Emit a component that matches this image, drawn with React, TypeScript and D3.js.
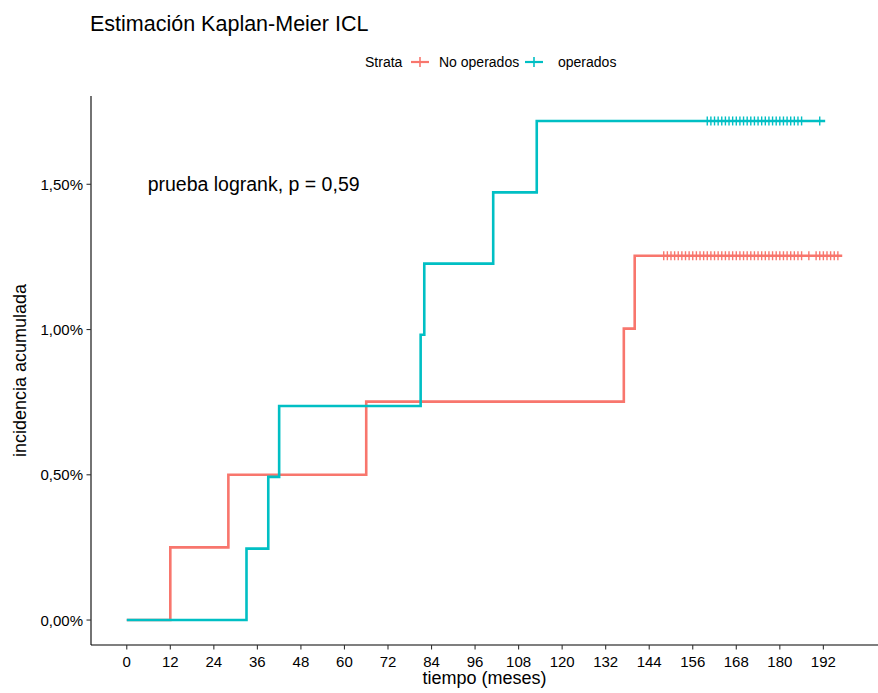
import React from 'react';
import * as d3 from 'd3';

// No operados
const noOperTime = [0, 12, 28, 66, 137, 140];
const noOperInc = [0, 0.25, 0.5, 0.752, 1.003, 1.254];
const noOperEnd = 197.2;
const noOperCensor = [
  148, 149, 150, 151, 152, 153, 154, 155, 156, 157, 158, 159, 160, 161, 162,
  163, 164, 165, 166, 167, 168, 169, 170, 171, 172, 173, 174, 175, 176, 177,
  178, 179, 180, 181, 182, 183, 184, 185, 186, 188, 190, 191, 192, 193, 194,
  195, 196,
];

// operados
const operTime = [0, 33, 39, 42, 81, 82, 101, 113];
const operInc = [0, 0.246, 0.493, 0.737, 0.982, 1.227, 1.472, 1.718];
const operEnd = 192.5;
const operCensor = [
  160, 161, 162, 163, 164, 165, 166, 167, 168, 169, 170, 171, 172, 173, 174,
  175, 176, 177, 178, 179, 180, 181, 182, 183, 184, 185, 186, 191,
];

const xTicks = [0, 12, 24, 36, 48, 60, 72, 84, 96, 108, 120, 132, 144, 156, 168, 180, 192];
const yTicks = [0, 0.5, 1.0, 1.5];
const yTickLabels = ['0,00%', '0,50%', '1,00%', '1,50%'];

const strata = [
  { name: 'No operados', color: '#F8766D', time: noOperTime, inc: noOperInc, end: noOperEnd, censor: noOperCensor },
  { name: 'operados', color: '#00BFC4', time: operTime, inc: operInc, end: operEnd, censor: operCensor },
];

const W = 878;
const H = 693;
const left = 91;
const right = 878;
const top = 96;
const bottom = 645;
const font = '"Liberation Sans", Arial, sans-serif';

export default function App() {
  const maxT = d3.max(strata, s => s.end) as number;
  const maxY = d3.max(strata, s => d3.max(s.inc) as number) as number;
  const x = d3.scaleLinear().domain([-maxT * 0.05, maxT * 1.05]).range([left, right]);
  const y = d3.scaleLinear().domain([-maxY * 0.05, maxY * 1.05]).range([bottom, top]);

  const line = d3
    .line<[number, number]>()
    .curve(d3.curveStepAfter)
    .x(d => x(d[0]))
    .y(d => y(d[1]));

  return (
    <svg width={W} height={H} style={{ position: 'absolute', left: 0, top: 0, background: '#fff' }} fontFamily={font}>
      <text x={90} y={31} fontSize={21.5} fill="#000">Estimación Kaplan-Meier ICL</text>

      {/* legend */}
      <g fontSize={14} fill="#000">
        <text x={365} y={62} dominantBaseline="central">Strata</text>
        {strata.map((s, i) => {
          const cx = i === 0 ? 420 : 534;
          const tx = i === 0 ? 439 : 558;
          return (
            <g key={s.name}>
              <line x1={cx - 9} x2={cx + 9} y1={62} y2={62} stroke={s.color} strokeWidth={2.2} />
              <line x1={cx} x2={cx} y1={57} y2={67} stroke={s.color} strokeWidth={1.6} />
              <text x={tx} y={62} dominantBaseline="central">{s.name}</text>
            </g>
          );
        })}
      </g>

      {/* curves */}
      {strata.map(s => {
        const pts: [number, number][] = s.time.map((t, i) => [t, s.inc[i]]);
        pts.push([s.end, s.inc[s.inc.length - 1]]);
        const last = s.inc[s.inc.length - 1];
        return (
          <g key={s.name}>
            <path d={line(pts) || ''} fill="none" stroke={s.color} strokeWidth={2.6} />
            {s.censor.map((c, i) => (
              <line key={i} x1={x(c)} x2={x(c)} y1={y(last) - 4.5} y2={y(last) + 4.5} stroke={s.color} strokeWidth={1.4} />
            ))}
          </g>
        );
      })}

      <text x={x(5.75)} y={y(1.5)} fontSize={19.5} dominantBaseline="central" fill="#000">
        prueba logrank, p = 0,59
      </text>

      {/* axes */}
      <line x1={left} x2={left} y1={top} y2={bottom} stroke="#000" strokeWidth={1.1} />
      <line x1={left} x2={right} y1={bottom} y2={bottom} stroke="#000" strokeWidth={1.1} />
      {xTicks.map(t => (
        <g key={t}>
          <line x1={x(t)} x2={x(t)} y1={bottom} y2={bottom + 4.5} stroke="#333" strokeWidth={1.1} />
          <text x={x(t)} y={bottom + 16} fontSize={15} textAnchor="middle" dominantBaseline="central" fill="#000">{t}</text>
        </g>
      ))}
      {yTicks.map((t, i) => (
        <g key={t}>
          <line x1={left - 4.5} x2={left} y1={y(t)} y2={y(t)} stroke="#333" strokeWidth={1.1} />
          <text x={left - 8} y={y(t)} fontSize={15} textAnchor="end" dominantBaseline="central" fill="#000">{yTickLabels[i]}</text>
        </g>
      ))}
      <text x={(left + right) / 2} y={678} fontSize={18} textAnchor="middle" dominantBaseline="central" fill="#000">tiempo (meses)</text>
      <text
        transform={`translate(20, ${(top + bottom) / 2}) rotate(-90)`}
        fontSize={18}
        textAnchor="middle"
        dominantBaseline="central"
        fill="#000"
      >
        incidencia acumulada
      </text>
    </svg>
  );
}
